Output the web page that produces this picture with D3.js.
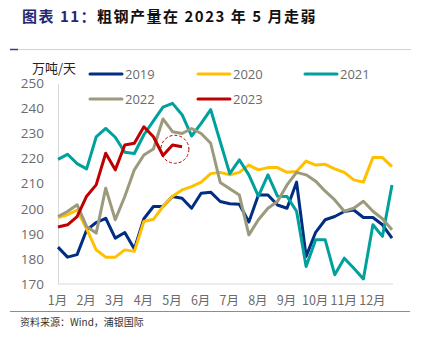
<!DOCTYPE html>
<html><head><meta charset="utf-8">
<script src="https://cdn.jsdelivr.net/npm/d3@7/dist/d3.min.js"></script>
<style>
body{margin:0;background:#fff;}
svg{display:block;}
</style></head>
<body><svg id="c" width="426" height="342"></svg>
<script>
const months = ["1月","2月","3月","4月","5月","6月","7月","8月","9月","10月","11月","12月"];
const yTicks = [170,180,190,200,210,220,230,240,250];
const seriesNames = ["2019","2020","2021","2022","2023"];
const seriesColors = ["#012d82","#ffc000","#00a19c","#9c9a7c","#c00000"];
const s2019 = [184.7,180.7,181.7,191.5,194.5,196.2,188.3,190.5,184,196,200.9,200.9,204.9,204.2,200.2,206.2,206.6,202.9,202,201.8,194.7,205.5,205.5,201.5,200.2,210.6,181,190.6,195.6,196.9,198.9,199.5,196.5,196.5,193.6,188.3];
const s2020 = [196.5,197.6,199.5,192,183.6,180.7,180.7,183.6,183,194.9,195.8,200.9,205,207.5,208.8,210.6,214,214.5,213.5,214.5,217.4,215.5,216.4,216.4,214.5,214.8,219,217.4,217.7,215.9,214.5,211.5,210.6,220.4,220.4,216.8];
const s2021 = [219.7,221.7,218,215.9,228.6,232,228.5,222.5,222,229.5,235,240.5,242,237.5,229,234,239.5,226.7,214,219.5,213.5,205,213.5,205,204.9,199,177,187.6,187.6,173.7,180.3,176.3,172,193.6,189,209.5];
const s2022 = [196.9,198.9,201.6,192.9,190.3,208.2,195.6,204.9,215.5,221.4,223.8,235.8,230.7,230,232,230,226.1,210.5,208,205.5,189.6,195.6,200.2,202.9,209.5,214.5,213.5,211,207,203.5,199,200.2,203,199,196,191.6];
const s2023 = [192.7,193.6,196.9,205,209.5,222.1,215.5,225.4,226.1,232.7,228.7,221.2,225.4,224.7];
const seriesValues = [s2019,s2020,s2021,s2022,s2023];
const highlight = {index:12.25, value:223.7};

const svg = d3.select("#c");
const x = d3.scaleLinear().domain([0,35]).range([58,392]);
const y = d3.scaleLinear().domain([170,250]).range([284,83.3]);

// title
const title = svg.append("text").attr("x",22).attr("y",22)
  .attr("font-family","'Noto Sans CJK SC',sans-serif").attr("font-size",15).attr("font-weight","bold")
  .attr("letter-spacing",1.5);
title.append("tspan").attr("fill","#262673").text("图表 11：");
title.append("tspan").attr("fill","#111").text("粗钢产量在 2023 年 5 月走弱");
svg.append("line").attr("x1",10).attr("x2",411).attr("y1",49.5).attr("y2",49.5).attr("stroke","#d0cfe3").attr("stroke-width",1);
svg.append("line").attr("x1",10).attr("x2",18).attr("y1",49.5).attr("y2",49.5).attr("stroke","#3a3a8c").attr("stroke-width",1.5);

// unit
svg.append("text").attr("x",32).attr("y",73).attr("font-family","'Noto Sans CJK SC',sans-serif")
  .attr("font-size",13).attr("fill","#222").text("万吨/天");

// axes
const yAxis = d3.axisLeft(y).tickValues(yTicks).tickSize(0).tickPadding(14);
const gy = svg.append("g").attr("transform","translate(58,0)").call(yAxis);
gy.select(".domain").attr("stroke","#d9d9d9");
gy.selectAll("text").attr("font-family","'Open Sans',sans-serif").attr("font-size",13.5).attr("fill","#6b6b6b");

const xAxis = d3.axisBottom(x).tickValues(d3.range(0,36,3)).tickSize(0).tickPadding(12)
  .tickFormat((d,i)=>months[i]);
const gx = svg.append("g").attr("transform","translate(0,284)").call(xAxis);
gx.select(".domain").attr("stroke","#d9d9d9").attr("d","M58,0H393");
gx.selectAll("text").attr("font-family","'Noto Sans CJK SC',sans-serif").attr("font-size",12.5).attr("fill","#6b6b6b").attr("dx",-1);

// lines
const line = d3.line().x((d,i)=>x(i)).y(d=>y(d));
seriesValues.forEach((vals,k)=>{
  svg.append("path").datum(vals).attr("d",line).attr("fill","none")
    .attr("stroke",seriesColors[k]).attr("stroke-width",3).attr("stroke-linejoin","round");
});

// dashed circle
svg.append("circle").attr("cx",x(highlight.index)).attr("cy",y(highlight.value)).attr("r",14)
  .attr("fill","none").attr("stroke","#c00000").attr("stroke-width",1).attr("stroke-dasharray","3,2");

// legend
const legendPos = [[90,74],[198,74],[305,74],[90,99],[198,99]];
seriesNames.forEach((n,k)=>{
  const [lx,ly] = legendPos[k];
  svg.append("line").attr("x1",lx).attr("x2",lx+32).attr("y1",ly).attr("y2",ly)
    .attr("stroke",seriesColors[k]).attr("stroke-width",3).attr("stroke-linecap","round");
  svg.append("text").attr("x",lx+35).attr("y",ly+5).attr("font-family","'Open Sans',sans-serif")
    .attr("font-size",13).attr("fill","#6b6b6b").text(n);
});

// footer
svg.append("line").attr("x1",10).attr("x2",410).attr("y1",311.5).attr("y2",311.5).attr("stroke","#8a87b0").attr("stroke-width",1);
svg.append("text").attr("x",20).attr("y",326).attr("font-family","'Noto Sans CJK SC',sans-serif")
  .attr("font-size",10).attr("fill","#333").text("资料来源：Wind，浦银国际");
</script></body></html>
